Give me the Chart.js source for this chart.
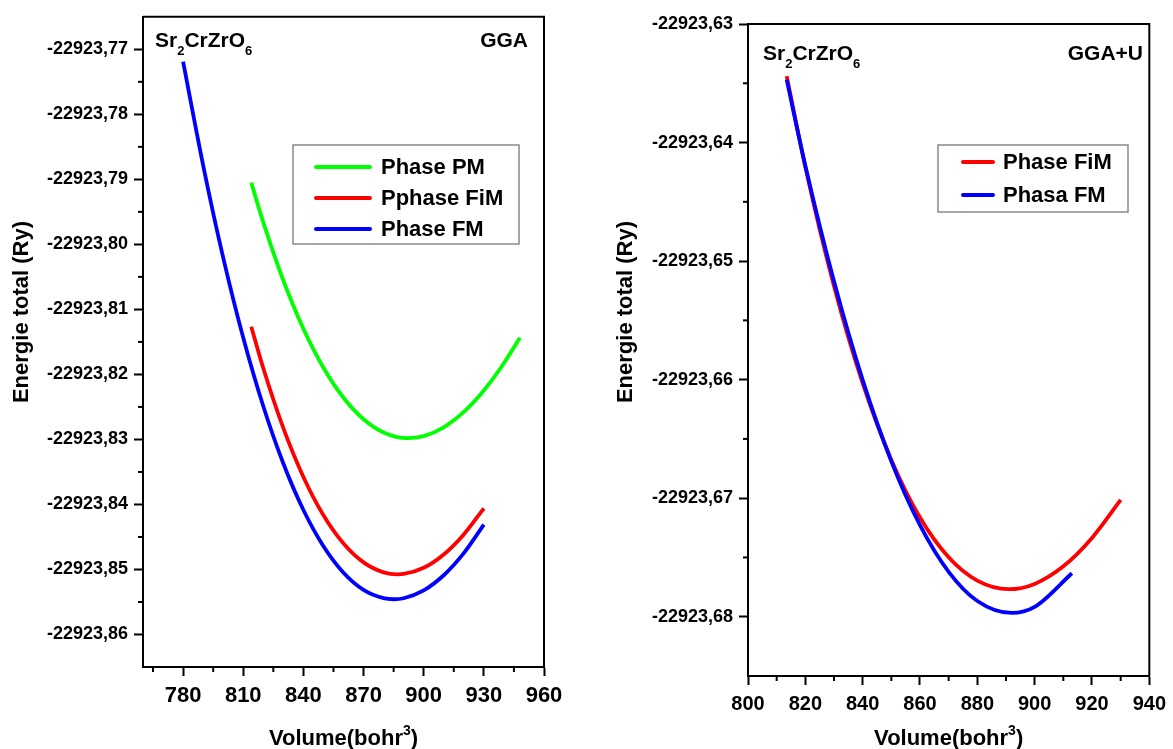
<!DOCTYPE html>
<html>
<head>
<meta charset="utf-8">
<script src="https://cdn.jsdelivr.net/npm/chart.js@4.4.1/dist/chart.umd.min.js"></script>
<style>
  body { margin: 0; background: #fff; }
  #wrap { position: relative; width: 1173px; height: 749px; }
  canvas { position: absolute; top: 0; }
</style>
</head>
<body>
<div id="wrap">
  <canvas id="gga" width="590" height="749" style="left:0px"></canvas>
  <canvas id="ggau" width="583" height="749" style="left:590px"></canvas>
</div>
<script>
// ---- GGA panel (left) ----
const ggaVolPM  = [814, 820, 830, 840, 850, 860, 870, 880, 892, 900, 910, 920, 930, 940, 948];
const ggaEnePM  = [-22923.79051, -22923.79662, -22923.80556, -22923.81299, -22923.81898, -22923.82359, -22923.82689,
                   -22923.82892, -22923.82980, -22923.82948, -22923.82813, -22923.82577, -22923.82247, -22923.81829, -22923.81435];
const ggaVolFiM = [814, 820, 830, 840, 850, 860, 870, 880, 887, 890, 900, 910, 920, 930];
const ggaEneFiM = [-22923.81267, -22923.81906, -22923.82827, -22923.83578, -22923.84167, -22923.84601, -22923.84891,
                   -22923.85044, -22923.85074, -22923.85069, -22923.84974, -22923.84769, -22923.84461, -22923.84059];
const ggaVolFM  = [780, 790, 800, 810, 820, 830, 840, 850, 860, 870, 880, 885, 890, 900, 910, 920, 930];
const ggaEneFM  = [-22923.77190, -22923.78784, -22923.80204, -22923.81437, -22923.82490, -22923.83371, -22923.84086,
                   -22923.84643, -22923.85050, -22923.85314, -22923.85442, -22923.85458, -22923.85443, -22923.85322,
                   -22923.85089, -22923.84749, -22923.84311];
const ggaXTicks = [780, 810, 840, 870, 900, 930, 960];
const ggaXMinor = [765, 795, 825, 855, 885, 915, 945];
const ggaYTicks = [-22923.77, -22923.78, -22923.79, -22923.80, -22923.81, -22923.82, -22923.83, -22923.84, -22923.85, -22923.86];
const ggaYMinor = [-22923.775, -22923.785, -22923.795, -22923.805, -22923.815, -22923.825, -22923.835, -22923.845, -22923.855];

// ---- GGA+U panel (right) ----
const uVolFiM = [813.5, 820, 830, 840, 850, 860, 870, 880, 891, 900, 910, 920, 930];
const uEneFiM = [-22923.63440, -22923.64206, -22923.65210, -22923.66030, -22923.66677, -22923.67163, -22923.67499,
                 -22923.67696, -22923.67768, -22923.67723, -22923.67575, -22923.67335, -22923.67014];
const uVolFM  = [813.5, 820, 830, 840, 850, 860, 870, 880, 892, 900, 913];
const uEneFM  = [-22923.63470, -22923.64195, -22923.65171, -22923.66002, -22923.66688, -22923.67227, -22923.67621,
                 -22923.67867, -22923.67968, -22923.67917, -22923.67633];
const uXTicks = [800, 820, 840, 860, 880, 900, 920, 940];
const uXMinor = [810, 830, 850, 870, 890, 910, 930];
const uYTicks = [-22923.63, -22923.64, -22923.65, -22923.66, -22923.67, -22923.68];
const uYMinor = [-22923.635, -22923.645, -22923.655, -22923.665, -22923.675];

const FONT = '"Liberation Sans", Arial, sans-serif';
const GREEN = '#00ff00', RED = '#ff0000', BLUE = '#0000ff';

// draws text with sub/superscript pieces: [text, shift] shift 0 normal, 1 sub, -1 sup
function richText(ctx, parts, x, y, size, align) {
  const small = Math.round(size * 0.62);
  let w = 0;
  parts.forEach(([t, s]) => {
    ctx.font = 'bold ' + (s ? small : size) + 'px ' + FONT;
    w += ctx.measureText(t).width;
  });
  let cx = align === 'center' ? x - w / 2 : align === 'right' ? x - w : x;
  ctx.textAlign = 'left';
  ctx.textBaseline = 'alphabetic';
  parts.forEach(([t, s]) => {
    ctx.font = 'bold ' + (s ? small : size) + 'px ' + FONT;
    const dy = s === 1 ? size * 0.38 : s === -1 ? -size * 0.45 : 0;
    ctx.fillText(t, cx, y + dy);
    cx += ctx.measureText(t).width;
  });
}

const formula = [['Sr', 0], ['2', 1], ['CrZrO', 0], ['6', 1]];
const volTitle = [['Volume(bohr', 0], ['3', -1], [')', 0]];

function panelPlugin(p) {
  return {
    id: 'panelDeco',
    afterDraw(chart) {
      const { ctx, chartArea: a, scales } = chart;
      ctx.save();
      ctx.strokeStyle = '#000';
      ctx.lineWidth = 2;
      ctx.beginPath();
      ctx.moveTo(a.left, a.top);
      ctx.lineTo(a.right, a.top);
      ctx.lineTo(a.right, a.bottom);
      ctx.stroke();
      // minor ticks
      p.minorX.forEach(v => {
        const x = scales.x.getPixelForValue(v);
        ctx.beginPath(); ctx.moveTo(x, a.bottom); ctx.lineTo(x, a.bottom + 5); ctx.stroke();
      });
      p.minorY.forEach(v => {
        const y = scales.y.getPixelForValue(v);
        ctx.beginPath(); ctx.moveTo(a.left, y); ctx.lineTo(a.left - 5, y); ctx.stroke();
      });
      ctx.fillStyle = '#000';
      // labels in the plot
      richText(ctx, formula, p.formulaX, p.labelY, 21, 'left');
      ctx.font = 'bold 21px ' + FONT;
      ctx.textAlign = 'right';
      ctx.fillText(p.method, p.methodX, p.labelY);
      // axis titles
      richText(ctx, volTitle, (a.left + a.right) / 2, p.xTitleY, 22, 'center');
      ctx.save();
      ctx.translate(p.yTitleX, p.yTitleY);
      ctx.rotate(-Math.PI / 2);
      ctx.font = 'bold 22px ' + FONT;
      ctx.textAlign = 'center';
      ctx.textBaseline = 'middle';
      ctx.fillText('Energie total (Ry)', 0, 0);
      ctx.restore();
      // legend box
      const L = p.legend;
      ctx.strokeStyle = '#8a8a8a';
      ctx.lineWidth = 1.5;
      ctx.strokeRect(L.x, L.y, L.w, L.h);
      chart.data.datasets.forEach((ds, i) => {
        const y = L.firstY + i * L.step;
        ctx.strokeStyle = ds.borderColor;
        ctx.lineWidth = 4;
        ctx.lineCap = 'round';
        ctx.beginPath(); ctx.moveTo(L.lineX0, y); ctx.lineTo(L.lineX1, y); ctx.stroke();
        ctx.fillStyle = '#000';
        ctx.font = 'bold 22px ' + FONT;
        ctx.textAlign = 'left';
        ctx.textBaseline = 'middle';
        ctx.fillText(ds.label, L.textX, y + 1);
      });
      ctx.restore();
    }
  };
}

function makeChart(id, p) {
  const tickFmt = v => v.toFixed(2).replace('.', ',');
  return new Chart(document.getElementById(id), {
    type: 'line',
    data: {
      datasets: p.series.map(s => ({
        label: s.label,
        data: s.vol.map((v, i) => ({ x: v, y: s.ene[i] })),
        borderColor: s.color,
        borderWidth: 3.8,
        pointRadius: 0,
        fill: false,
        cubicInterpolationMode: 'monotone',
        order: s.order
      }))
    },
    options: {
      responsive: false,
      animation: false,
      layout: { padding: { top: p.padTop, right: p.padRight, left: 0, bottom: 0 } },
      plugins: { legend: { display: false }, tooltip: { enabled: false } },
      scales: {
        x: {
          type: 'linear', min: p.xMin, max: p.xMax,
          afterBuildTicks: s => { s.ticks = p.xTicks.map(v => ({ value: v })); },
          afterFit: s => { s.height = p.xAxisH; },
          ticks: { color: '#000', font: { family: FONT, weight: 'bold', size: p.xTickSize }, padding: 7, maxRotation: 0 },
          grid: { drawOnChartArea: false, drawTicks: true, tickLength: 9, tickWidth: 2, tickColor: '#000' },
          border: { color: '#000', width: 2 }
        },
        y: {
          type: 'linear', min: p.yMin, max: p.yMax,
          afterBuildTicks: s => { s.ticks = p.yTicks.map(v => ({ value: v })); },
          afterFit: s => { s.width = p.yAxisW; },
          ticks: { color: '#000', font: { family: FONT, weight: 'bold', size: 18 }, padding: 6, callback: tickFmt },
          grid: { drawOnChartArea: false, drawTicks: true, tickLength: 9, tickWidth: 2, tickColor: '#000' },
          border: { color: '#000', width: 2 }
        }
      }
    },
    plugins: [panelPlugin(p)]
  });
}

makeChart('gga', {
  series: [
    { label: 'Phase PM', vol: ggaVolPM, ene: ggaEnePM, color: GREEN, order: 3 },
    { label: 'Pphase FiM', vol: ggaVolFiM, ene: ggaEneFiM, color: RED, order: 2 },
    { label: 'Phase FM', vol: ggaVolFM, ene: ggaEneFM, color: BLUE, order: 1 }
  ],
  xMin: 760, xMax: 960, yMin: -22923.865, yMax: -22923.765,
  xTicks: ggaXTicks, yTicks: ggaYTicks, minorX: ggaXMinor, minorY: ggaYMinor,
  padTop: 15, padRight: 46, yAxisW: 143, xAxisH: 82, xTickSize: 22,
  formulaX: 155, methodX: 528, labelY: 47, method: 'GGA',
  xTitleY: 745, yTitleX: 22, yTitleY: 312,
  legend: { x: 293, y: 145, w: 226, h: 99, firstY: 167, step: 31, lineX0: 316, lineX1: 370, textX: 381 }
});

makeChart('ggau', {
  series: [
    { label: 'Phase FiM', vol: uVolFiM, ene: uEneFiM, color: RED, order: 2 },
    { label: 'Phasa FM', vol: uVolFM, ene: uEneFM, color: BLUE, order: 1 }
  ],
  xMin: 800, xMax: 940, yMin: -22923.685, yMax: -22923.63,
  xTicks: uXTicks, yTicks: uYTicks, minorX: uXMinor, minorY: uYMinor,
  padTop: 24, padRight: 17, yAxisW: 158, xAxisH: 73, xTickSize: 20,
  formulaX: 173, methodX: 553, labelY: 60, method: 'GGA+U',
  xTitleY: 745, yTitleX: 36, yTitleY: 312,
  legend: { x: 348, y: 145, w: 190, h: 67, firstY: 162, step: 33, lineX0: 373, lineX1: 403, textX: 413 }
});
</script>
</body>
</html>
